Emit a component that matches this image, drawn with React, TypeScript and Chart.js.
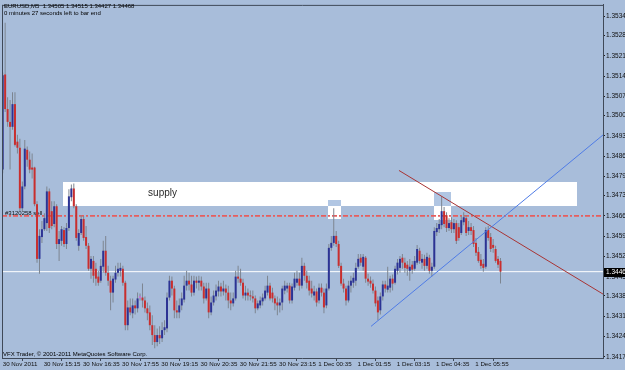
import React, { useEffect, useRef } from 'react';
import { Chart, registerables } from 'chart.js';

Chart.register(...registerables);

// ---------------- data ----------------
const symbolTitle = 'EURUSD,M5  1.34505 1.34515 1.34427 1.34468';
const timerText = '0 minutes 27 seconds left to bar end';
const copyrightText = 'VFX Trader, \u00a9 2001-2011 MetaQuotes Software Corp.';

// M5 bars, index 0 = first visible bar (30 Nov ~13:55)
const opens = [
  1.34819, 1.35146, 1.35027, 1.34983, 1.34966, 1.35044, 1.34915, 1.34894, 1.34686, 1.34761,
  1.34887, 1.34853, 1.34826, 1.34826, 1.34700, 1.34512, 1.34587, 1.34614, 1.34635, 1.34744,
  1.34676, 1.34632, 1.34693, 1.34563, 1.34574, 1.34611, 1.34563, 1.34618, 1.34724, 1.34754,
  1.34693, 1.34557, 1.34601, 1.34649, 1.34587, 1.34557, 1.34478, 1.34505, 1.34478, 1.34451,
  1.34437, 1.34485, 1.34540, 1.34464, 1.34437, 1.34396, 1.34441, 1.34464, 1.34471, 1.34478,
  1.34430, 1.34284, 1.34345, 1.34325, 1.34352, 1.34342, 1.34379, 1.34379, 1.34369, 1.34342,
  1.34328, 1.34284, 1.34250, 1.34226, 1.34250, 1.34239, 1.34267, 1.34273, 1.34379, 1.34437,
  1.34410, 1.34335, 1.34328, 1.34352, 1.34372, 1.34420, 1.34437, 1.34424, 1.34396, 1.34437,
  1.34430, 1.34437, 1.34417, 1.34376, 1.34410, 1.34328, 1.34362, 1.34383, 1.34400, 1.34417,
  1.34400, 1.34410, 1.34396, 1.34369, 1.34359, 1.34376, 1.34451, 1.34444, 1.34430, 1.34386,
  1.34396, 1.34386, 1.34383, 1.34376, 1.34342, 1.34352, 1.34366, 1.34376, 1.34396, 1.34420,
  1.34396, 1.34376, 1.34362, 1.34352, 1.34362, 1.34403, 1.34410, 1.34420, 1.34369, 1.34413,
  1.34430, 1.34444, 1.34420, 1.34488, 1.34454, 1.34437, 1.34410, 1.34386, 1.34400, 1.34369,
  1.34413, 1.34396, 1.34352, 1.34410, 1.34550, 1.34567, 1.34591, 1.34563, 1.34488, 1.34427,
  1.34410, 1.34369, 1.34420, 1.34430, 1.34437, 1.34485, 1.34516, 1.34485, 1.34516, 1.34444,
  1.34437, 1.34427, 1.34403, 1.34369, 1.34335, 1.34383, 1.34424, 1.34406, 1.34413, 1.34444,
  1.34430, 1.34471, 1.34481, 1.34516, 1.34499, 1.34492, 1.34471, 1.34492, 1.34478, 1.34499,
  1.34540, 1.34499, 1.34512, 1.34488, 1.34516, 1.34471, 1.34485, 1.34604, 1.34614, 1.34628,
  1.34676, 1.34662, 1.34618, 1.34638, 1.34614, 1.34635, 1.34621, 1.34601, 1.34638, 1.34652,
  1.34608, 1.34621, 1.34611, 1.34567, 1.34536, 1.34509, 1.34495, 1.34485, 1.34611, 1.34587,
  1.34560, 1.34546, 1.34512, 1.34505,
];
const highs = [
  1.35153, 1.35324, 1.35068, 1.35058, 1.35085, 1.35085, 1.34939, 1.34925, 1.34778, 1.34921,
  1.34898, 1.34881, 1.34874, 1.34829, 1.34710, 1.34614, 1.34642, 1.34669, 1.34761, 1.34754,
  1.34710, 1.34710, 1.34700, 1.34608, 1.34625, 1.34621, 1.34635, 1.34751, 1.34768, 1.34771,
  1.34700, 1.34614, 1.34662, 1.34659, 1.34625, 1.34567, 1.34522, 1.34522, 1.34499, 1.34471,
  1.34512, 1.34574, 1.34591, 1.34488, 1.34454, 1.34454, 1.34488, 1.34499, 1.34499, 1.34488,
  1.34437, 1.34369, 1.34376, 1.34376, 1.34369, 1.34396, 1.34393, 1.34427, 1.34383, 1.34362,
  1.34352, 1.34318, 1.34284, 1.34273, 1.34280, 1.34294, 1.34301, 1.34396, 1.34454, 1.34451,
  1.34420, 1.34369, 1.34376, 1.34396, 1.34454, 1.34471, 1.34464, 1.34454, 1.34454, 1.34451,
  1.34454, 1.34451, 1.34430, 1.34430, 1.34430, 1.34383, 1.34403, 1.34424, 1.34437, 1.34430,
  1.34437, 1.34424, 1.34420, 1.34396, 1.34396, 1.34471, 1.34488, 1.34478, 1.34444, 1.34420,
  1.34410, 1.34403, 1.34403, 1.34386, 1.34369, 1.34383, 1.34393, 1.34420, 1.34454, 1.34430,
  1.34413, 1.34386, 1.34383, 1.34376, 1.34420, 1.34437, 1.34430, 1.34430, 1.34427, 1.34464,
  1.34471, 1.34464, 1.34516, 1.34499, 1.34471, 1.34454, 1.34437, 1.34420, 1.34410, 1.34427,
  1.34427, 1.34410, 1.34427, 1.34563, 1.34591, 1.34686, 1.34608, 1.34574, 1.34499, 1.34444,
  1.34420, 1.34437, 1.34454, 1.34464, 1.34499, 1.34529, 1.34529, 1.34529, 1.34522, 1.34461,
  1.34451, 1.34441, 1.34417, 1.34383, 1.34396, 1.34437, 1.34437, 1.34485, 1.34454, 1.34458,
  1.34488, 1.34512, 1.34522, 1.34529, 1.34516, 1.34505, 1.34512, 1.34505, 1.34522, 1.34560,
  1.34550, 1.34529, 1.34526, 1.34533, 1.34526, 1.34499, 1.34621, 1.34635, 1.34649, 1.34727,
  1.34690, 1.34672, 1.34652, 1.34655, 1.34649, 1.34645, 1.34635, 1.34659, 1.34672, 1.34662,
  1.34642, 1.34635, 1.34625, 1.34584, 1.34553, 1.34529, 1.34512, 1.34621, 1.34625, 1.34601,
  1.34580, 1.34557, 1.34522, 1.34515,
];
const lows = [
  1.34806, 1.35017, 1.34966, 1.34819, 1.34956, 1.34898, 1.34874, 1.34676, 1.34676, 1.34751,
  1.34829, 1.34806, 1.34788, 1.34693, 1.34499, 1.34461, 1.34567, 1.34608, 1.34608, 1.34601,
  1.34614, 1.34621, 1.34546, 1.34505, 1.34557, 1.34553, 1.34546, 1.34608, 1.34710, 1.34686,
  1.34574, 1.34540, 1.34594, 1.34574, 1.34546, 1.34471, 1.34444, 1.34430, 1.34420, 1.34420,
  1.34430, 1.34464, 1.34454, 1.34420, 1.34335, 1.34362, 1.34430, 1.34451, 1.34451, 1.34420,
  1.34267, 1.34267, 1.34318, 1.34308, 1.34321, 1.34328, 1.34369, 1.34345, 1.34328, 1.34301,
  1.34267, 1.34216, 1.34205, 1.34212, 1.34219, 1.34226, 1.34250, 1.34260, 1.34369, 1.34386,
  1.34308, 1.34308, 1.34308, 1.34335, 1.34362, 1.34403, 1.34403, 1.34383, 1.34386, 1.34410,
  1.34403, 1.34403, 1.34359, 1.34369, 1.34308, 1.34318, 1.34352, 1.34369, 1.34383, 1.34383,
  1.34386, 1.34369, 1.34342, 1.34335, 1.34348, 1.34369, 1.34430, 1.34420, 1.34376, 1.34369,
  1.34369, 1.34369, 1.34362, 1.34325, 1.34335, 1.34342, 1.34352, 1.34369, 1.34386, 1.34369,
  1.34362, 1.34335, 1.34318, 1.34328, 1.34335, 1.34390, 1.34396, 1.34359, 1.34359, 1.34403,
  1.34420, 1.34403, 1.34410, 1.34437, 1.34410, 1.34386, 1.34379, 1.34369, 1.34348, 1.34359,
  1.34383, 1.34325, 1.34342, 1.34403, 1.34540, 1.34557, 1.34553, 1.34481, 1.34420, 1.34396,
  1.34352, 1.34362, 1.34396, 1.34413, 1.34420, 1.34478, 1.34488, 1.34471, 1.34430, 1.34420,
  1.34413, 1.34393, 1.34348, 1.34301, 1.34321, 1.34369, 1.34396, 1.34396, 1.34396, 1.34403,
  1.34424, 1.34458, 1.34464, 1.34478, 1.34464, 1.34454, 1.34437, 1.34461, 1.34471, 1.34492,
  1.34495, 1.34478, 1.34471, 1.34478, 1.34461, 1.34451, 1.34478, 1.34591, 1.34601, 1.34614,
  1.34621, 1.34604, 1.34608, 1.34601, 1.34601, 1.34563, 1.34574, 1.34594, 1.34628, 1.34591,
  1.34594, 1.34594, 1.34553, 1.34522, 1.34499, 1.34478, 1.34468, 1.34478, 1.34574, 1.34536,
  1.34533, 1.34499, 1.34481, 1.34427,
];
const closes = [
  1.35143, 1.35027, 1.34983, 1.34966, 1.35044, 1.34904, 1.34894, 1.34686, 1.34761, 1.34891,
  1.34853, 1.34819, 1.34819, 1.34700, 1.34512, 1.34591, 1.34614, 1.34652, 1.34744, 1.34618,
  1.34625, 1.34693, 1.34563, 1.34580, 1.34614, 1.34563, 1.34618, 1.34727, 1.34754, 1.34693,
  1.34584, 1.34601, 1.34649, 1.34584, 1.34557, 1.34478, 1.34512, 1.34454, 1.34444, 1.34430,
  1.34488, 1.34540, 1.34464, 1.34437, 1.34396, 1.34444, 1.34464, 1.34478, 1.34481, 1.34430,
  1.34284, 1.34345, 1.34328, 1.34352, 1.34342, 1.34376, 1.34379, 1.34369, 1.34342, 1.34325,
  1.34284, 1.34250, 1.34226, 1.34250, 1.34239, 1.34267, 1.34277, 1.34379, 1.34437, 1.34410,
  1.34335, 1.34328, 1.34352, 1.34376, 1.34420, 1.34437, 1.34424, 1.34396, 1.34437, 1.34430,
  1.34437, 1.34417, 1.34376, 1.34410, 1.34328, 1.34362, 1.34386, 1.34403, 1.34417, 1.34400,
  1.34410, 1.34396, 1.34369, 1.34359, 1.34376, 1.34451, 1.34444, 1.34430, 1.34386, 1.34396,
  1.34386, 1.34383, 1.34376, 1.34342, 1.34359, 1.34369, 1.34379, 1.34403, 1.34420, 1.34376,
  1.34376, 1.34359, 1.34352, 1.34362, 1.34410, 1.34420, 1.34420, 1.34369, 1.34417, 1.34444,
  1.34444, 1.34420, 1.34488, 1.34454, 1.34430, 1.34403, 1.34393, 1.34400, 1.34362, 1.34413,
  1.34396, 1.34345, 1.34410, 1.34550, 1.34567, 1.34591, 1.34563, 1.34488, 1.34427, 1.34410,
  1.34369, 1.34420, 1.34437, 1.34447, 1.34481, 1.34512, 1.34499, 1.34519, 1.34444, 1.34434,
  1.34427, 1.34403, 1.34359, 1.34328, 1.34383, 1.34424, 1.34410, 1.34420, 1.34444, 1.34427,
  1.34478, 1.34499, 1.34512, 1.34499, 1.34481, 1.34478, 1.34485, 1.34475, 1.34505, 1.34546,
  1.34505, 1.34512, 1.34488, 1.34519, 1.34471, 1.34485, 1.34608, 1.34618, 1.34632, 1.34676,
  1.34632, 1.34618, 1.34635, 1.34614, 1.34635, 1.34574, 1.34584, 1.34645, 1.34655, 1.34601,
  1.34621, 1.34608, 1.34563, 1.34533, 1.34505, 1.34488, 1.34481, 1.34611, 1.34584, 1.34546,
  1.34550, 1.34505, 1.34492, 1.34468,
];

// time axis labels (bar index -> label)
const xTickBars = [0, 16, 32, 48, 64, 80, 96, 112, 128, 144, 160, 176, 192];
const xTickLabels = [
  '30 Nov 2011', '30 Nov 15:15', '30 Nov 16:35', '30 Nov 17:55', '30 Nov 19:15',
  '30 Nov 20:35', '30 Nov 21:55', '30 Nov 23:15', '1 Dec 00:35', '1 Dec 01:55',
  '1 Dec 03:15', '1 Dec 04:35', '1 Dec 05:55',
];
// price axis labels
const yTickValues = [
  1.35345, 1.3528, 1.3521, 1.3514, 1.3507, 1.35005, 1.34935, 1.34865, 1.34795,
  1.3473, 1.3466, 1.3459, 1.3452, 1.3445, 1.34385, 1.34315, 1.34245, 1.34175,
];

// visible window (bars / price)
const xRange = [-0.285, 244.8];
const yRange = [1.341712, 1.353852];

// chart objects
const bidPrice = 1.34468;
const sellOrderPrice = 1.3466;
const sellOrderLabel = '#3120258 sell';
const sellLabelAnchor = [0.94, 1.3467];
const supplyLabel = 'supply';
const supplyLabelAnchor = [59.3, 1.34737];
const supplyRect = [24.7, 234.2, 1.34778, 1.34693]; // [fromBar, toBar, top, bottom]
const spikeRectA = [132.8, 137.8, 1.34713, 1.34649];
const spikeRectB = [176.0, 182.8, 1.34742, 1.34645];
const blueTrendBars = [150.2, 244.8];
const blueTrendPrices = [1.3428, 1.34938];
const redTrendBars = [161.6, 244.8];
const redTrendPrices = [1.34816, 1.34391];

// ---------------- styling ----------------
const BG = '#a8bdda';
const OVERLAP = '#b1c6e3';
const FRAME = '#3f4958';
const FONT = '"Liberation Sans", Arial, sans-serif';
const BULL = '#2c3394';
const BEAR = '#c92e2e';
const DOJI = '#ff40ff';
const WICK = '#7d8590';

const mt4Plugin = {
  id: 'mt4Overlay',
  beforeDraw(chart: any) {
    const { ctx, width, height } = chart;
    ctx.save();
    ctx.fillStyle = BG;
    ctx.fillRect(0, 0, width, height);
    ctx.restore();
  },
  beforeDatasetsDraw(chart: any) {
    const { ctx, chartArea, scales } = chart;
    const px = (v: number) => Math.round(scales.x.getPixelForValue(v));
    const py = (v: number) => Math.round(scales.y.getPixelForValue(v));
    ctx.save();
    ctx.beginPath();
    ctx.rect(chartArea.left, chartArea.top, chartArea.right - chartArea.left, chartArea.bottom - chartArea.top);
    ctx.clip();
    const [sx0, sx1, sTop, sBot] = supplyRect;
    ctx.fillStyle = '#ffffff';
    ctx.fillRect(px(sx0), py(sTop), px(sx1) - px(sx0), py(sBot) - py(sTop));
    [spikeRectA, spikeRectB].forEach(([a, b, t, btm]) => {
      ctx.fillStyle = '#ffffff';
      ctx.fillRect(px(a), py(t), px(b) - px(a), py(btm) - py(t));
      const ot = Math.min(t, sTop);
      const ob = Math.max(btm, sBot);
      const ol = Math.max(a, sx0);
      const or = Math.min(b, sx1);
      if (ot > ob && or > ol) {
        ctx.fillStyle = OVERLAP;
        ctx.fillRect(px(ol), py(ot), px(or) - px(ol), py(ob) - py(ot));
      }
    });
    ctx.fillStyle = '#2a2a2a';
    ctx.font = `10px ${FONT}`;
    ctx.textBaseline = 'middle';
    ctx.textAlign = 'left';
    ctx.fillText(supplyLabel, scales.x.getPixelForValue(supplyLabelAnchor[0]), scales.y.getPixelForValue(supplyLabelAnchor[1]));
    ctx.fillStyle = '#101010';
    ctx.font = `6px ${FONT}`;
    ctx.fillText(sellOrderLabel, scales.x.getPixelForValue(sellLabelAnchor[0]), scales.y.getPixelForValue(sellLabelAnchor[1]));
    ctx.restore();
  },
  afterDraw(chart: any) {
    const { ctx, chartArea, scales, width } = chart;
    ctx.save();
    // frame
    ctx.strokeStyle = FRAME;
    ctx.lineWidth = 1;
    ctx.beginPath();
    ctx.moveTo(chartArea.left + 0.5, chartArea.top);
    ctx.lineTo(chartArea.left + 0.5, chartArea.bottom);
    ctx.moveTo(chartArea.left, chartArea.bottom + 0.5);
    ctx.lineTo(chartArea.right, chartArea.bottom + 0.5);
    ctx.moveTo(chartArea.left, chartArea.top + 0.5);
    ctx.lineTo(chartArea.right, chartArea.top + 0.5);
    ctx.stroke();
    // header + copyright
    ctx.fillStyle = '#000000';
    ctx.font = `6px ${FONT}`;
    ctx.textBaseline = 'middle';
    ctx.textAlign = 'left';
    ctx.fillText(symbolTitle, 4, 6);
    ctx.fillText(timerText, 4, 13);
    ctx.fillText(copyrightText, 3, 354);
    // current price marker on the price axis
    const last = closes[closes.length - 1];
    const yb = Math.round(scales.y.getPixelForValue(last));
    ctx.fillStyle = '#000000';
    ctx.fillRect(chartArea.right + 1, yb - 4, width - chartArea.right - 1, 9);
    ctx.fillStyle = '#ffffff';
    ctx.font = `6.5px ${FONT}`;
    ctx.fillText(last.toFixed(5), chartArea.right + 3, yb + 0.5);
    ctx.restore();
  },
};

export default function App() {
  const canvasRef = useRef<HTMLCanvasElement | null>(null);

  useEffect(() => {
    document.body.style.margin = '0';
    document.body.style.background = BG;
    const canvas = canvasRef.current;
    if (!canvas) return;

    const bodyColors = opens.map((o, i) => (closes[i] > o ? BULL : closes[i] < o ? BEAR : DOJI));

    const chart = new Chart(canvas, {
      type: 'bar',
      data: {
        datasets: [
          {
            type: 'line',
            label: 'trend up',
            data: blueTrendBars.map((b, i) => ({ x: b, y: blueTrendPrices[i] })),
            borderColor: '#4f7ce6',
            borderWidth: 1,
            pointRadius: 0,
            order: 0,
          },
          {
            type: 'line',
            label: 'trend down',
            data: redTrendBars.map((b, i) => ({ x: b, y: redTrendPrices[i] })),
            borderColor: '#a83434',
            borderWidth: 1,
            pointRadius: 0,
            order: 0,
          },
          {
            type: 'bar',
            label: 'bodies',
            data: opens.map((o, i) => ({ x: i, y: [o, closes[i]] })),
            backgroundColor: bodyColors,
            barThickness: 2,
            minBarLength: 1,
            grouped: false,
            borderWidth: 0,
            inflateAmount: 0,
            order: 1,
          },
          {
            type: 'bar',
            label: 'wicks',
            data: lows.map((l, i) => ({ x: i, y: [l, highs[i]] })),
            backgroundColor: WICK,
            barThickness: 1,
            grouped: false,
            borderWidth: 0,
            inflateAmount: 0,
            order: 2,
          },
          {
            type: 'line',
            label: 'sell order',
            data: xRange.map((b) => ({ x: b, y: sellOrderPrice })),
            borderColor: '#e65e5e',
            borderWidth: 1.6,
            borderDash: [5, 2, 2, 2],
            pointRadius: 0,
            order: 3,
          },
          {
            type: 'line',
            label: 'bid',
            data: xRange.map((b) => ({ x: b, y: bidPrice })),
            borderColor: '#ffffff',
            borderWidth: 1,
            pointRadius: 0,
            order: 3,
          },
        ] as any,
      },
      options: {
        responsive: false,
        animation: false,
        devicePixelRatio: 1,
        layout: { padding: { left: 2, top: 2, right: 0, bottom: 0 } },
        plugins: { legend: { display: false }, tooltip: { enabled: false } },
        scales: {
          x: {
            type: 'linear',
            min: xRange[0],
            max: xRange[1],
            offset: false,
            afterBuildTicks: (s: any) => {
              s.ticks = xTickBars.map((v) => ({ value: v }));
            },
            afterFit: (s: any) => {
              s.height = 12;
            },
            ticks: {
              autoSkip: false,
              maxRotation: 0,
              align: 'start',
              padding: 0,
              color: '#101010',
              font: { size: 6.2, family: FONT },
              callback: (_v: any, i: number) => (i === 0 ? xTickLabels[0] : ' ' + xTickLabels[i]),
            },
            grid: { drawOnChartArea: false, tickLength: 3, tickColor: FRAME, color: FRAME },
            border: { display: false },
          },
          y: {
            type: 'linear',
            position: 'right',
            min: yRange[0],
            max: yRange[1],
            afterBuildTicks: (s: any) => {
              s.ticks = yTickValues.map((v) => ({ value: v }));
            },
            afterFit: (s: any) => {
              s.width = 22;
            },
            ticks: {
              autoSkip: false,
              padding: 1,
              color: '#101010',
              font: { size: 6.5, family: FONT },
              callback: (v: any) => Number(v).toFixed(5),
            },
            grid: { drawOnChartArea: false, tickLength: 2, tickColor: '#202020', color: '#202020' },
            border: { display: true, color: FRAME, width: 1 },
          },
        },
      } as any,
      plugins: [mt4Plugin],
    });
    return () => chart.destroy();
  }, []);

  return (
    <div style={{ width: 625, height: 370, background: BG }}>
      <canvas ref={canvasRef} width={625} height={370} style={{ display: 'block' }} />
    </div>
  );
}
